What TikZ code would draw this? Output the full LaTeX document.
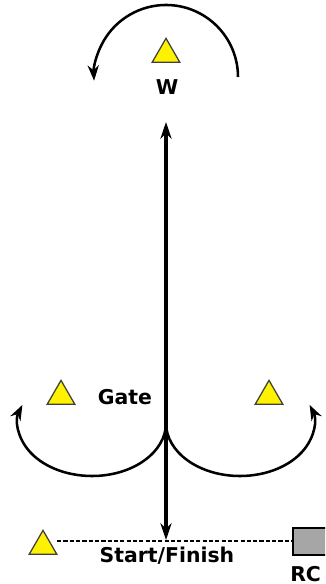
\documentclass[tikz,border=0pt]{standalone}
\usepackage{fontspec}
\setmainfont{DejaVu Sans}
\usepackage{tikz}
\usetikzlibrary{arrows.meta, shapes.geometric, positioning}

\tikzset{
    buoy/.style={regular polygon, regular polygon sides=3, draw=black!75,
        fill=yellow, line width=0.9pt, inner sep=0pt, minimum size=0.8cm, anchor=south},
    lbl/.style={font=\fontsize{14.5}{16}\selectfont\bfseries, inner sep=0pt, anchor=base},
    course/.style={line width=1.8pt, -{Stealth[length=11pt, width=8pt]}},
}

\begin{document}
\begin{tikzpicture}[x=0.025cm, y=0.025cm]

    % =================================================================
    % 1. MAIN POINTS
    % =================================================================
    \useasboundingbox (0,0) rectangle (325,584);
    \clip (0,0) rectangle (325,584);

    \coordinate (Top) at (166,462);
    \coordinate (Bottom) at (166,44);
    \coordinate (G) at (166,161);
    \coordinate (TurnW) at (238,507);

    % Start line ends
    \coordinate (LineL) at (57,43);
    \coordinate (LineR) at (292,43);

    % =================================================================
    % 2. MARKS (YELLOW TRIANGLES) AND COMMITTEE BOAT
    % =================================================================
    \node[buoy] (W) at (166,521) {};
    \node[buoy] (GateL) at (61,179) {};
    \node[buoy] (GateR) at (269,179) {};
    \node[buoy] (Pin) at (43,29) {};

    \draw[fill=gray!70, line width=0.9pt] (293,29) rectangle (335,56);

    % =================================================================
    % 3. START LINE AND COURSE
    % =================================================================
    \draw[line width=1.1pt, dash pattern=on 3pt off 1.5pt] (LineL) -- (LineR);

    % Beat / run between start and windward mark
    \draw[line width=2.4pt, {Stealth[length=12pt, width=8pt]}-{Stealth[length=12pt, width=8pt]}]
        (Bottom) -- (Top);

    % Rounding at W
    \draw[course] (TurnW) arc[start angle=0, end angle=183, radius=1.8cm];

    % Rounding through the gate
    \draw[course] (G) arc[start angle=0, end angle=-200, x radius=1.85cm, y radius=1.325cm];
    \draw[course] (G) arc[start angle=180, end angle=380, x radius=1.85cm, y radius=1.325cm];

    % =================================================================
    % 4. LABELS
    % =================================================================
    \node[lbl] (Wlbl) at (167,489) {W};
    \node[lbl] (Gatelbl) at (125,179) {Gate};
    \node[lbl] (SFlbl) at (167,21) {Start/Finish};
    \node[lbl, anchor=base west] (RClbl) at (290,3) {RC};

\end{tikzpicture}
\end{document}
